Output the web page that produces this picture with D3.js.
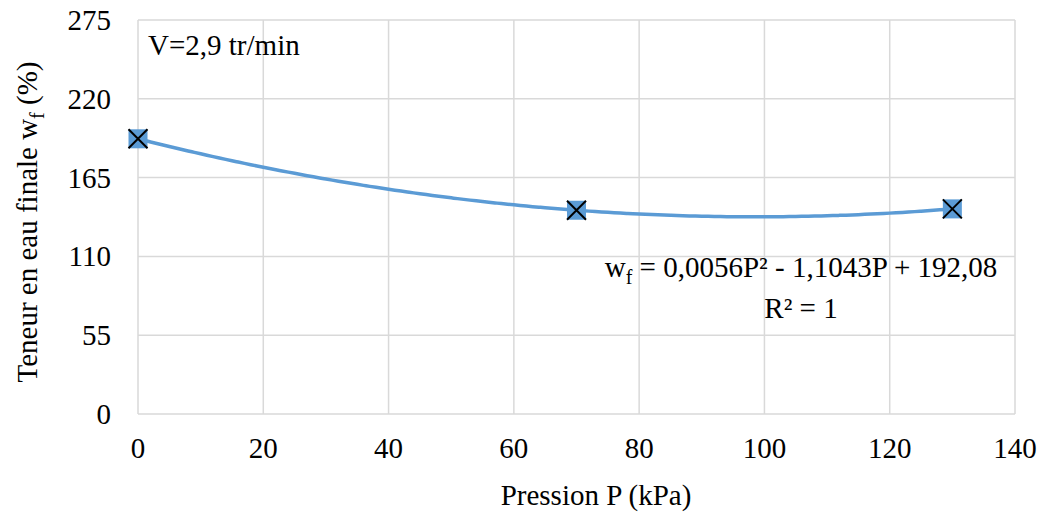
<!DOCTYPE html>
<html><head><meta charset="utf-8">
<script src="https://cdn.jsdelivr.net/npm/d3@7"></script>
<style>svg text{font-family:"Liberation Serif",serif !important}</style>
</head><body style="margin:0;background:#fff"><svg id="c" width="1041" height="513"></svg>
<script>
const pressures = [0, 70, 130];
const contents = [192.08, 142.22, 143.16];
const trendCoefs = [0.0056, -1.1043, 192.08];
const xTicks = [0, 20, 40, 60, 80, 100, 120, 140];
const yTicks = [0, 55, 110, 165, 220, 275];

const svg = d3.select('#c');
const L = 138, R = 1015, T = 20, B = 414;
const x = d3.scaleLinear().domain([0, 140]).range([L, R]);
const y = d3.scaleLinear().domain([0, 275]).range([B, T]);
const fs = 29;
const FF = 'Liberation Serif';

// grid
svg.append('g').selectAll('line').data(xTicks).join('line')
  .attr('x1', d => x(d)).attr('x2', d => x(d)).attr('y1', T).attr('y2', B)
  .attr('stroke', '#d9d9d9').attr('stroke-width', 1.5);
svg.append('g').selectAll('line').data(yTicks).join('line')
  .attr('x1', L).attr('x2', R).attr('y1', d => y(d)).attr('y2', d => y(d))
  .attr('stroke', '#d9d9d9').attr('stroke-width', 1.5);

// tick labels
svg.append('g').selectAll('text').data(xTicks).join('text')
  .style('font-family', FF)
  .attr('x', d => x(d)).attr('y', 458).attr('text-anchor', 'middle')
  .attr('font-size', fs).text(d => d);
svg.append('g').selectAll('text').data(yTicks).join('text')
  .style('font-family', FF)
  .attr('x', 111).attr('y', d => y(d) + 10).attr('text-anchor', 'end')
  .attr('font-size', fs).text(d => d);

// trendline
const samples = d3.range(0, 130.01, 1);
const poly = p => trendCoefs[0] * p * p + trendCoefs[1] * p + trendCoefs[2];
svg.append('path').datum(samples)
  .attr('d', d3.line().x(p => x(p)).y(p => y(poly(p))).curve(d3.curveMonotoneX))
  .attr('fill', 'none').attr('stroke', '#5B9BD5').attr('stroke-width', 3.5);

// markers
const ms = 19;
const mk = svg.append('g').selectAll('g').data(pressures.map((p, i) => [p, contents[i]])).join('g')
  .attr('transform', d => `translate(${x(d[0])},${y(d[1])})`);
mk.append('rect').attr('x', -ms / 2).attr('y', -ms / 2).attr('width', ms).attr('height', ms)
  .attr('fill', '#5B9BD5');
mk.append('path').attr('d', `M${-ms/2},${-ms/2}L${ms/2},${ms/2}M${ms/2},${-ms/2}L${-ms/2},${ms/2}`)
  .attr('stroke', '#000').attr('stroke-width', 2);

// annotations
svg.append('text').style('font-family', FF).attr('x', 148).attr('y', 55).attr('font-size', fs).text('V=2,9 tr/min');
const eq = svg.append('text').style('font-family', FF).attr('x', 801).attr('y', 277).attr('text-anchor', 'middle').attr('font-size', fs);
eq.append('tspan').text('w');
eq.append('tspan').attr('font-size', 20).attr('dy', 7).text('f');
eq.append('tspan').attr('dy', -7).text(' = 0,0056P² - 1,1043P + 192,08');
svg.append('text').style('font-family', FF).attr('x', 801).attr('y', 318).attr('text-anchor', 'middle').attr('font-size', fs).text('R² = 1');

// axis titles
svg.append('text').style('font-family', FF).attr('x', 596).attr('y', 505).attr('text-anchor', 'middle').attr('font-size', fs).text('Pression P (kPa)');
const yt = svg.append('text').style('font-family', FF).attr('transform', 'translate(37,222) rotate(-90)').attr('text-anchor', 'middle').attr('font-size', fs);
yt.append('tspan').text('Teneur en eau finale w');
yt.append('tspan').attr('font-size', 20).attr('dy', 7).text('f');
yt.append('tspan').attr('dy', -7).text(' (%)');
</script></body></html>
